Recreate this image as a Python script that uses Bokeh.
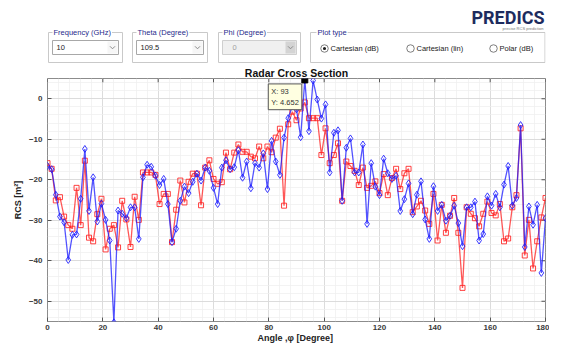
from bokeh.plotting import figure
from bokeh.models import Range1d, FixedTicker, Label, ColumnDataSource
from bokeh.layouts import column
from bokeh.embed import file_html
from bokeh.resources import INLINE
from bokeh.core.properties import value

# ---------------- data ----------------
angle = [i * 1.5 for i in range(121)]

rcs_blue = [
    -16.6, -17.4, -23.7, -29.1, -30.5, -39.8, -33.6, -33.5, -24.7, -12.4,
    -27.7, -19.4, -30.3, -25.9, -29.9, -35.0, -55.2, -27.6, -28.4, -29.5,
    -26.8, -26.8, -34.6, -19.4, -16.3, -16.8, -19.0, -21.3, -19.8, -26.0,
    -35.4, -32.1, -25.2, -21.7, -23.3, -20.5, -18.5, -20.2, -17.0, -17.8,
    -22.0, -26.0, -17.0, -15.2, -17.4, -16.9, -12.7, -19.5, -15.5, -22.1,
    -15.9, -17.0, -13.5, -22.3, -10.4, -15.5, -18.8, -9.6, -4.8, -1.8,
    -2.6, -9.5, 4.652, -8.0, 4.5, -0.2, -4.9, -1.4, -18.2, -8.4,
    -7.8, -25.2, -12.1, -9.8, -18.2, -18.2, -11.3, -30.9, -15.9, -21.7,
    -23.8, -14.8, -18.4, -19.8, -19.0, -27.7, -24.8, -20.9, -28.5, -23.7,
    -20.4, -29.8, -34.6, -21.6, -27.7, -26.2, -30.1, -28.9, -26.4, -30.7,
    -36.4, -26.8, -26.8, -25.4, -35.0, -33.4, -24.1, -26.4, -23.5, -26.8,
    -21.2, -16.6, -26.4, -24.5, -6.5, -36.6, -26.6, -31.1, -26.2, -43.0,
    -29.5,
]

rcs_red = [
    -15.9, -17.3, -25.1, -24.3, -29.1, -31.2, -32.1, -22.0, -31.2, -15.3,
    -34.3, -35.2, -28.5, -24.7, -37.2, -32.1, -31.2, -36.7, -25.2, -29.8,
    -36.6, -24.2, -29.9, -18.2, -18.2, -18.2, -18.8, -26.0, -23.5, -23.5,
    -35.4, -27.4, -20.2, -25.6, -20.5, -18.5, -18.5, -26.3, -17.0, -15.2,
    -19.8, -21.0, -20.6, -13.3, -17.4, -13.3, -11.3, -13.1, -13.1, -14.3,
    -14.7, -11.8, -14.7, -11.8, -13.2, -9.6, -7.4, -26.4, -6.3, -3.2,
    -5.3, -2.4, -0.9, -4.8, -4.8, -4.8, -13.9, -7.3, -15.9, -13.9,
    -11.0, -25.2, -15.5, -16.6, -17.8, -21.3, -17.0, -22.0, -21.5, -20.4,
    -23.3, -18.6, -23.8, -19.6, -17.3, -22.3, -18.4, -17.3, -28.0, -26.6,
    -25.2, -27.6, -30.9, -23.5, -35.0, -26.2, -33.1, -28.9, -24.5, -33.1,
    -46.7, -26.8, -28.4, -29.5, -31.5, -28.4, -25.4, -28.2, -28.8, -26.0,
    -35.2, -34.5, -26.8, -23.8, -7.3, -38.7, -29.9, -41.9, -35.2, -29.3,
    -24.5,
]

x_ticks = [0, 20, 40, 60, 80, 100, 120, 140, 160, 180]
y_ticks = [-50, -40, -30, -20, -10, 0]
tip_index = 62

freq_options = ["10"]
theta_options = ["109.5"]
phi_options = ["0"]
plot_types = ["Cartesian (dB)", "Cartesian (lin)", "Polar (dB)"]

FONT = "Liberation Sans"
W, H = 549, 345
HEAD_H = 64
MAIN_H = H - HEAD_H
BL, BR = 47, 4          # shared left/right borders (frames are aligned in the column)
FL, FR = BL, W - BR     # frame extent in picture pixels

# ---------------- header (GUI controls), drawn in picture pixels ----------------
h = figure(width=W, height=HEAD_H, x_range=Range1d(FL, FR), y_range=Range1d(HEAD_H, 0),
           toolbar_location=None, output_backend="svg",
           min_border_left=BL, min_border_right=BR, min_border_top=0, min_border_bottom=0,
           x_axis_type=None, y_axis_type=None, outline_line_color=None)
h.grid.visible = False
h.background_fill_color = "white"
h.border_fill_color = "white"

navy = "#1f2a8c"

def txt(x, y, s, size="7.5px", color="#1a1a1a", align="left", font=FONT, style="normal", bg=None):
    kw = {}
    if bg:
        kw = dict(background_fill_color=bg, padding=1)
    h.text(x=[x], y=[y], text=[s], text_font=value(font), text_font_size=size,
           text_color=color, text_align=align, text_baseline="middle",
           text_font_style=style, **kw)

gy0, gy1 = 32, 62
groups = [
    ("Frequency (GHz)", 48, 122, freq_options[0], False),
    ("Theta (Degree)", 132, 207, theta_options[0], False),
    ("Phi (Degree)", 218, 300, phi_options[0], True),
]
for title, x0, x1, val, disabled in groups:
    h.quad(left=x0, right=x1, top=gy0, bottom=gy1, fill_color=None, line_color="#c9c9c9")
    d0, d1 = x0 + 4, x1 - 4
    h.quad(left=d0, right=d1, top=40, bottom=54,
           fill_color="#f0f0f0" if disabled else "white",
           line_color="#cfcfcf" if disabled else "#a8a8a8")
    h.quad(left=d1 - 11, right=d1 - 1, top=41, bottom=53,
           fill_color="#d4d4d4" if disabled else "#f6f6f6", line_color=None)
    cx = d1 - 6
    h.line([cx - 2.5, cx, cx + 2.5], [45.8, 48.3, 45.8], line_color="#8a8a8a", line_width=1)
    txt(d0 + (10 if disabled else 4), 47, val, color="#a0a0a0" if disabled else "#222222")
    txt(x0 + 4, gy0, title, color=navy, bg="white")

h.quad(left=310, right=FR - 0.5, top=gy0, bottom=gy1, fill_color=None, line_color="#c9c9c9")
txt(316, gy0, "Plot type", color=navy, bg="white")
radio_x = [324, 410, 493]
for i, (rx, lab) in enumerate(zip(radio_x, plot_types)):
    h.scatter([rx], [48], size=7.5, marker="circle", fill_color="white",
              line_color="#6f6f6f", line_width=0.9)
    if i == 0:
        h.scatter([rx], [48], size=3.2, marker="circle", fill_color="#222222", line_color=None)
    txt(rx + 6, 48, lab)

txt(FR - 1, 17, "PREDICS", size="18px", color="#1d2b5e", align="right", font="Roboto", style="bold")
txt(FR - 2, 27.5, "precise RCS prediction", size="4px", color="#777777", align="right")

# ---------------- main chart ----------------
p = figure(width=W, height=MAIN_H, x_range=Range1d(0, 180), y_range=Range1d(-55, 5),
           toolbar_location=None, output_backend="svg",
           min_border_left=BL, min_border_right=BR, min_border_top=13, min_border_bottom=21)
p.background_fill_color = "white"
p.border_fill_color = "white"
p.outline_line_color = "#8c8c8c"
p.outline_line_width = 1

p.title.text = "Radar Cross Section"
p.title.align = "center"
p.title.text_font = FONT
p.title.text_font_size = "10.5px"
p.title.text_font_style = "bold"
p.title.text_color = "#111111"
p.title.standoff = 0
p.title.offset = 0

for ax in (p.xaxis[0], p.yaxis[0]):
    ax.major_label_text_font = FONT
    ax.major_label_text_font_size = "8px"
    ax.major_label_text_font_style = "bold"
    ax.major_label_text_color = "#3a3a3a"
    ax.axis_label_text_font = FONT
    ax.axis_label_text_font_size = "9px"
    ax.axis_label_text_font_style = "bold"
    ax.axis_label_text_color = "#222222"
    ax.axis_line_color = None
    ax.major_tick_in = 4
    ax.major_tick_out = 0
    ax.minor_tick_in = 0
    ax.minor_tick_out = 0
    ax.major_tick_line_color = "#555555"

p.xaxis[0].ticker = FixedTicker(ticks=x_ticks, minor_ticks=list(range(0, 181, 4)))
p.yaxis[0].ticker = FixedTicker(ticks=y_ticks, minor_ticks=list(range(-54, 5, 2)))
p.xaxis[0].axis_label = "Angle ,\u03c6  [Degree]"
p.yaxis[0].axis_label = "RCS [m\u00b2]"
p.xaxis[0].major_label_standoff = 3
p.xaxis[0].axis_label_standoff = 0
p.yaxis[0].major_label_standoff = 5
p.yaxis[0].axis_label_standoff = 3

p.xgrid[0].ticker = p.xaxis[0].ticker
p.ygrid[0].ticker = p.yaxis[0].ticker
for g in (p.xgrid[0], p.ygrid[0]):
    g.grid_line_color = "#d6d6d6"
    g.grid_line_width = 0.8
    g.minor_grid_line_color = "#eeeeee"
    g.minor_grid_line_width = 0.7

# inward ticks on the top and right edges of the box
ymax = p.y_range.end
xmax = p.x_range.end
p.segment(x0=x_ticks, x1=x_ticks, y0=[ymax] * len(x_ticks), y1=[ymax - 0.95] * len(x_ticks),
          line_color="#555555", line_width=1)
p.segment(x0=[xmax] * len(y_ticks), x1=[xmax - 1.45] * len(y_ticks), y0=y_ticks, y1=y_ticks,
          line_color="#555555", line_width=1)

src = ColumnDataSource(dict(angle=angle, blue=rcs_blue, red=rcs_red))
red_c = "#ff2020"
blue_c = "#1a1aff"
p.line("angle", "red", source=src, line_color=red_c, line_width=1.3, line_alpha=0.75)
p.scatter("angle", "red", source=src, marker="square", size=5, line_color=red_c,
          fill_color=None, line_width=1, line_alpha=0.85)
p.line("angle", "blue", source=src, line_color=blue_c, line_width=1.3, line_alpha=0.75)
p.scatter("angle", "blue", source=src, marker="diamond", size=7, line_color=blue_c,
          fill_color=None, line_width=1, line_alpha=0.85)

# data tip
tx_val = angle[tip_index]
ty_val = rcs_blue[tip_index]
p.scatter([tx_val], [ty_val], marker="square", size=6, fill_color="black", line_color="black")
tip = Label(x=tx_val, y=ty_val, x_offset=-3, y_offset=-4,
            text=f"X: {tx_val:g}\nY: {ty_val:.3f}", anchor="top_right",
            text_font=FONT, text_font_size="7.5px", text_color="#333333",
            background_fill_color="#ffffe1", border_line_color="#555555",
            border_line_width=1, padding=3)
p.add_layout(tip)

layout = column(h, p, spacing=0)
open("out.html", "w").write(file_html(layout, INLINE))
